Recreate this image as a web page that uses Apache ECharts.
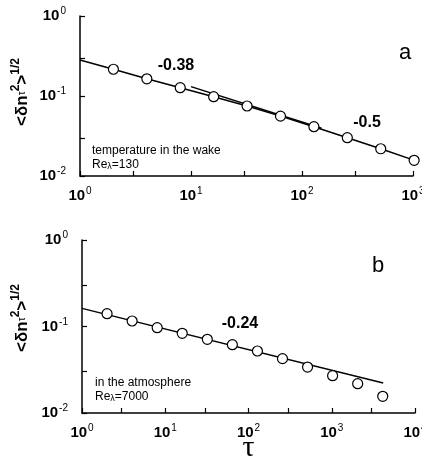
<!DOCTYPE html>
<html>
<head>
<meta charset="utf-8">
<script src="https://cdn.jsdelivr.net/npm/echarts@6/dist/echarts.min.js"></script>
<style>
  html, body { margin: 0; padding: 0; background: #fff; }
  #chart { width: 422px; height: 466px; }
</style>
</head>
<body>
<div id="chart"></div>
<script>
// panel a: temperature in the wake
var tauA = [2, 4, 8, 16, 32, 64, 128, 256, 512, 1024]
var valsA = [0.216, 0.164, 0.127, 0.098, 0.075, 0.056, 0.0413, 0.0301, 0.0219, 0.0157]
// curved fit through the points
var fitA = [[1, 0.282], [2, 0.216], [4, 0.164], [8, 0.127], [16, 0.098], [32, 0.075], [64, 0.056], [128, 0.0413], [256, 0.0301], [512, 0.0219], [1000, 0.0159]]
var fitA2 = [[10, 0.131], [150, 0.0395]]
// panel b: in the atmosphere
var tauB = [2, 4, 8, 16, 32, 64, 128, 256, 512, 1024, 2048, 4096]
var valsB = [0.1406, 0.1158, 0.0969, 0.0834, 0.0711, 0.0616, 0.0521, 0.0425, 0.034, 0.027, 0.0218, 0.0156]
var fitB = [[1, 0.162], [4150, 0.0222]]
// ticks
var xTicksA = [1, 3, 10, 30, 100, 300, 1000]
var xLabelsA = [1, 10, 100, 1000]
var xTicksB = [1, 3, 10, 30, 100, 300, 1000, 3000, 10000]
var xLabelsB = [1, 10, 100, 1000, 10000]
var yTicks = [0.01, 0.03, 0.1, 0.3, 1]
var yLabels = [0.01, 0.1, 1]

var chart = echarts.init(document.getElementById('chart'))

var FONT = 'Liberation Sans'
var black = '#000'

function powLabel(v) {
  var e = Math.round(Math.log10(v))
  return '{b|10}{s|' + e + '}'
}
var tickRich = {
  b: { fontFamily: FONT, fontSize: 15, fontWeight: 'bold', color: black },
  s: { fontFamily: FONT, fontSize: 10, color: black, padding: [0, 0, 9, 1] },
}

function xAxis(idx, min, max, ticks, labels, extra) {
  return Object.assign({
    type: 'log',
    gridIndex: idx,
    min: min,
    max: max,
    axisLine: { lineStyle: { color: black, width: 1.5 } },
    axisTick: { inside: true, length: 5, customValues: ticks, lineStyle: { color: black, width: 1.2 } },
    axisLabel: { customValues: labels, margin: 10, formatter: powLabel, rich: tickRich },
    splitLine: { show: false },
  }, extra || {})
}
function yAxis(idx) {
  return {
    type: 'log',
    gridIndex: idx,
    min: 0.01,
    max: 1,
    axisLine: { show: true, lineStyle: { color: black, width: 1.5 } },
    axisTick: { show: true, inside: true, length: 5, customValues: yTicks, lineStyle: { color: black, width: 1.2 } },
    axisLabel: { customValues: yLabels, margin: 14, formatter: powLabel, rich: tickRich },
    splitLine: { show: false },
  }
}

var pointStyle = {
  type: 'line',
  symbol: 'circle',
  symbolSize: 10,
  clip: false,
  lineStyle: { width: 0 },
  itemStyle: { color: '#fff', borderColor: black, borderWidth: 1.2 },
  z: 5,
  silent: true,
}
var fitStyle = {
  type: 'line',
  showSymbol: false,
  symbol: 'none',
  clip: false,
  lineStyle: { color: black, width: 1.5 },
  silent: true,
}

var yNameRich = {
  b: { fontFamily: FONT, fontSize: 17, fontWeight: 'bold', color: black },
  t: { fontFamily: FONT, fontSize: 10, color: black, padding: [0, 0, 0, 0] },
  u: { fontFamily: FONT, fontSize: 12, fontWeight: 'bold', color: black, padding: [0, 0, 12, 0] },
}
var yName = '{b|<δn}{t|τ}{u|2}{b|>}{u|1/2}'

var option = {
  animation: false,
  grid: [
    { left: 80, top: 16, width: 333, height: 160, outerBoundsMode: 'none' },
    { left: 82, top: 240, width: 333, height: 173, outerBoundsMode: 'none' },
  ],
  xAxis: [
    xAxis(0, 1, 1000, xTicksA, xLabelsA),
    xAxis(1, 1, 10000, xTicksB, xLabelsB, {
      name: 'τ',
      nameLocation: 'middle',
      nameGap: 20,
      nameMoveOverlap: false,
      nameTextStyle: { fontFamily: 'Liberation Serif', fontSize: 30, color: black },
    }),
  ],
  yAxis: [yAxis(0), yAxis(1)],
  series: [
    Object.assign({}, fitStyle, { xAxisIndex: 0, yAxisIndex: 0, data: fitA }),
    Object.assign({}, fitStyle, { xAxisIndex: 0, yAxisIndex: 0, data: fitA2 }),
    Object.assign({}, pointStyle, { xAxisIndex: 0, yAxisIndex: 0, data: tauA.map(function (t, i) { return [t, valsA[i]] }) }),
    Object.assign({}, fitStyle, { xAxisIndex: 1, yAxisIndex: 1, data: fitB }),
    Object.assign({}, pointStyle, { xAxisIndex: 1, yAxisIndex: 1, data: tauB.map(function (t, i) { return [t, valsB[i]] }) }),
  ],
  graphic: [
    { type: 'text', x: 22, y: 92, rotation: Math.PI / 2, style: { text: yName, rich: yNameRich, align: 'center', verticalAlign: 'middle' } },
    { type: 'text', x: 22, y: 318, rotation: Math.PI / 2, style: { text: yName, rich: yNameRich, align: 'center', verticalAlign: 'middle' } },
    { type: 'text', x: 405, y: 53, style: { text: 'a', font: '22px "Liberation Sans"', fill: black, align: 'center', verticalAlign: 'middle' } },
    { type: 'text', x: 378, y: 266, style: { text: 'b', font: '22px "Liberation Sans"', fill: black, align: 'center', verticalAlign: 'middle' } },
    { type: 'text', x: 176, y: 66, style: { text: '-0.38', font: 'bold 16px "Liberation Sans"', fill: black, align: 'center', verticalAlign: 'middle' } },
    { type: 'text', x: 367, y: 123, style: { text: '-0.5', font: 'bold 16px "Liberation Sans"', fill: black, align: 'center', verticalAlign: 'middle' } },
    { type: 'text', x: 240, y: 324, style: { text: '-0.24', font: 'bold 16px "Liberation Sans"', fill: black, align: 'center', verticalAlign: 'middle' } },
    { type: 'text', x: 92, y: 151, style: { text: 'temperature in the wake', font: '12px "Liberation Sans"', fill: black, verticalAlign: 'middle' } },
    { type: 'text', x: 92, y: 165, style: { text: 'Re{s|λ}=130', font: '12px "Liberation Sans"', fill: black, verticalAlign: 'middle', rich: { s: { fontSize: 9, fontFamily: FONT, padding: [4, 0, 0, 0], verticalAlign: 'bottom' } } } },
    { type: 'text', x: 95, y: 383, style: { text: 'in the atmosphere', font: '12px "Liberation Sans"', fill: black, verticalAlign: 'middle' } },
    { type: 'text', x: 95, y: 397, style: { text: 'Re{s|λ}=7000', font: '12px "Liberation Sans"', fill: black, verticalAlign: 'middle', rich: { s: { fontSize: 9, fontFamily: FONT, padding: [4, 0, 0, 0], verticalAlign: 'bottom' } } } },
  ],
}
chart.setOption(option)
</script>
</body>
</html>
